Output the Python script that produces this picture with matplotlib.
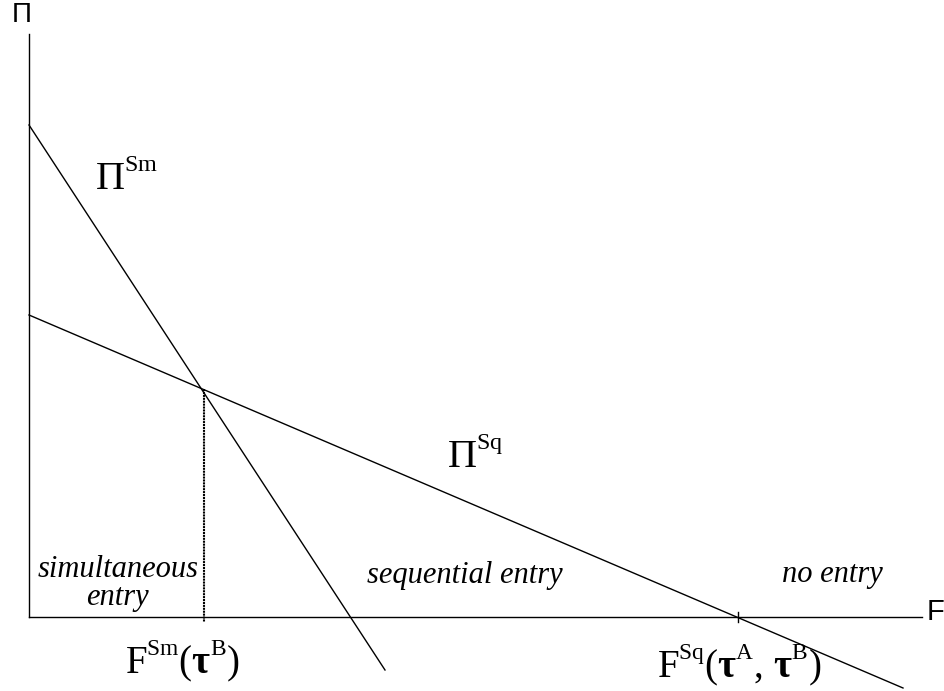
import matplotlib
matplotlib.use("Agg")
import matplotlib.pyplot as plt
import matplotlib._mathtext as mathtext_internal

plt.rcParams['mathtext.fontset'] = 'custom'
plt.rcParams['mathtext.rm'] = 'Liberation Serif'
plt.rcParams['mathtext.it'] = 'Liberation Serif:italic'
plt.rcParams['mathtext.bf'] = 'Liberation Serif:bold'
# smaller, a bit higher superscripts, closer to the original typesetting
mathtext_internal.SHRINK_FACTOR = 0.6
mathtext_internal.FontConstantsBase.sup1 = 0.95

# profit lines (F on x, Pi on y), endpoints
sm_F = [0.0, 3.56]
sm_Pi = [4.92, -0.53]
sq_F = [0.0, 8.74]
sq_Pi = [3.02, -0.71]

# thresholds
F_sm = 1.75
Pi_cross = 2.28
F_sq = 7.09

x_axis_end = 8.93
y_axis_top = 5.83

fig = plt.figure(figsize=(9.44, 6.91), dpi=100)
ax = fig.add_axes([0, 0, 1, 1])
ax.set_xlim(-0.29, 9.15)
ax.set_ylim(-0.74, 6.17)
ax.axis('off')

lw = 1.0
ax.plot([0, x_axis_end], [0, 0], color='black', lw=lw)
ax.plot([0, 0], [0, y_axis_top], color='black', lw=lw)
ax.plot(sm_F, sm_Pi, color='black', lw=lw)
ax.plot(sq_F, sq_Pi, color='black', lw=lw)
ax.plot([F_sm, F_sm], [Pi_cross, -0.05], color='black', lw=1.5, linestyle=(0, (1, 0.4)))
ax.plot([F_sq, F_sq], [0.05, -0.05], color='black', lw=lw)

ax.text(-0.07, 6.02, 'Π', fontsize=20, family='Liberation Sans', ha='center', va='center')
ax.text(8.98, 0.05, 'F', fontsize=21, family='Liberation Sans', ha='left', va='center')

ax.text(0.66, 4.27, r'$\Pi^{\mathrm{Sm}}$', fontsize=29, ha='left', va='baseline')
ax.text(4.18, 1.49, r'$\Pi^{\mathrm{Sq}}$', fontsize=29, ha='left', va='baseline')
ax.text(0.96, -0.56, r'$\mathrm{F}^{\mathrm{Sm}}(\mathbf{τ}^{\mathrm{B}})$', fontsize=28,
        ha='left', va='baseline')
ax.text(6.28, -0.60, r'$\mathrm{F}^{\mathrm{Sq}}(\mathbf{τ}^{\mathrm{A}},\,\mathbf{τ}^{\mathrm{B}})$',
        fontsize=28, ha='left', va='baseline')

it = dict(family='Liberation Serif', style='italic', fontsize=22, va='baseline', ha='center')
ax.text(0.89, 0.40, 'simultaneous', **it)
ax.text(0.88, 0.12, 'entry', **it)
ax.text(4.36, 0.34, 'sequential entry', **it)
ax.text(8.03, 0.35, 'no entry', **it)

fig.savefig('out.png', dpi=100)
